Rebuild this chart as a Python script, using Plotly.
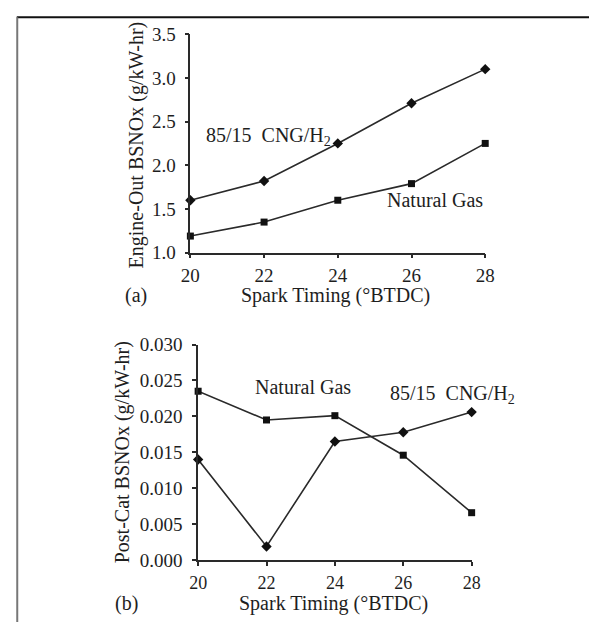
import plotly.graph_objects as go

timing = [20, 22, 24, 26, 28]
eo_cng = [1.60, 1.82, 2.25, 2.71, 3.10]
eo_ng = [1.19, 1.35, 1.60, 1.79, 2.25]
pc_ng = [0.0235, 0.0195, 0.0201, 0.0146, 0.0066]
pc_cng = [0.0140, 0.0019, 0.0165, 0.0178, 0.0206]

x_ticks = [20, 22, 24, 26, 28]
y_ticks_a = [1.0, 1.5, 2.0, 2.5, 3.0, 3.5]
y_ticks_b = [0.000, 0.005, 0.010, 0.015, 0.020, 0.025, 0.030]

FONT = "Liberation Serif"
LC = "#2a2a2a"
TC = "#1e1e1e"
W, H = 598, 633

fig = go.Figure()

def line(x, y, sym, xa, ya, size):
    fig.add_trace(go.Scatter(x=x, y=y, mode="lines+markers", xaxis=xa, yaxis=ya,
                             line=dict(color=LC, width=1.6),
                             marker=dict(symbol=sym, size=size, color="#111"),
                             cliponaxis=False, showlegend=False))

line(timing, eo_cng, "diamond", "x", "y", 8)
line(timing, eo_ng, "square", "x", "y", 7)
line(timing, pc_ng, "square", "x2", "y2", 7)
line(timing, pc_cng, "diamond", "x2", "y2", 8)

def px(v): return v / W
def py(v): return 1 - v / H

def ax(standoff, size=19):
    return dict(showgrid=False, zeroline=False, showline=True, linecolor=LC, linewidth=1.6,
                ticks="outside", ticklen=4, tickcolor=LC, tickwidth=1.5,
                ticklabelstandoff=standoff,
                tickfont=dict(family=FONT, size=size, color=TC))

fig.update_layout(
    width=W, height=H, margin=dict(l=0, r=0, t=0, b=0),
    paper_bgcolor="white", plot_bgcolor="white",
    font=dict(family=FONT),
    xaxis=dict(domain=[px(187), px(491)], range=[20, 28], tickvals=x_ticks, anchor="y", **ax(1)),
    yaxis=dict(domain=[py(251), py(25)], range=[1.0, 3.5], tickvals=y_ticks_a, tickformat=".1f", anchor="x", **ax(5)),
    xaxis2=dict(domain=[px(195), px(477)], range=[20, 28], tickvals=x_ticks, anchor="y2", **ax(1, 18)),
    yaxis2=dict(domain=[py(569), py(346)], range=[0, 0.030], tickvals=y_ticks_b, tickformat=".3f", anchor="x2", **ax(6)),
)

def ann(text, x, y, size=20, angle=0, xanchor="center"):
    fig.add_annotation(text=text, x=px(x), y=py(y), xref="paper", yref="paper",
                       showarrow=False, textangle=angle, xanchor=xanchor, yanchor="middle",
                       font=dict(family=FONT, size=size, color=TC))

ann("85/15  CNG/H<sub>2</sub>", 201, 131, xanchor="left")
ann("Natural Gas", 388, 197, xanchor="left")
ann("(a)", 118, 295, xanchor="left")
ann("Spark Timing (°BTDC)", 337, 295)
ann("Engine-Out BSNOx (g/kW-hr)", 131, 140, angle=-90)

ann("Natural Gas", 252, 390, xanchor="left")
ann("85/15  CNG/H<sub>2</sub>", 391, 398, xanchor="left")
ann("(b)", 107, 614, xanchor="left")
ann("Spark Timing (°BTDC)", 335, 614)
ann("Post-Cat BSNOx (g/kW-hr)", 117, 457, angle=-90)

fig.add_shape(type="line", xref="paper", yref="paper", x0=px(8), x1=1, y0=py(7.5), y1=py(7.5),
              line=dict(color="#111", width=2))
fig.add_shape(type="line", xref="paper", yref="paper", x0=px(8.5), x1=px(8.5), y0=0, y1=py(7.5),
              line=dict(color="#777", width=2))

fig.write_html("out.html")
